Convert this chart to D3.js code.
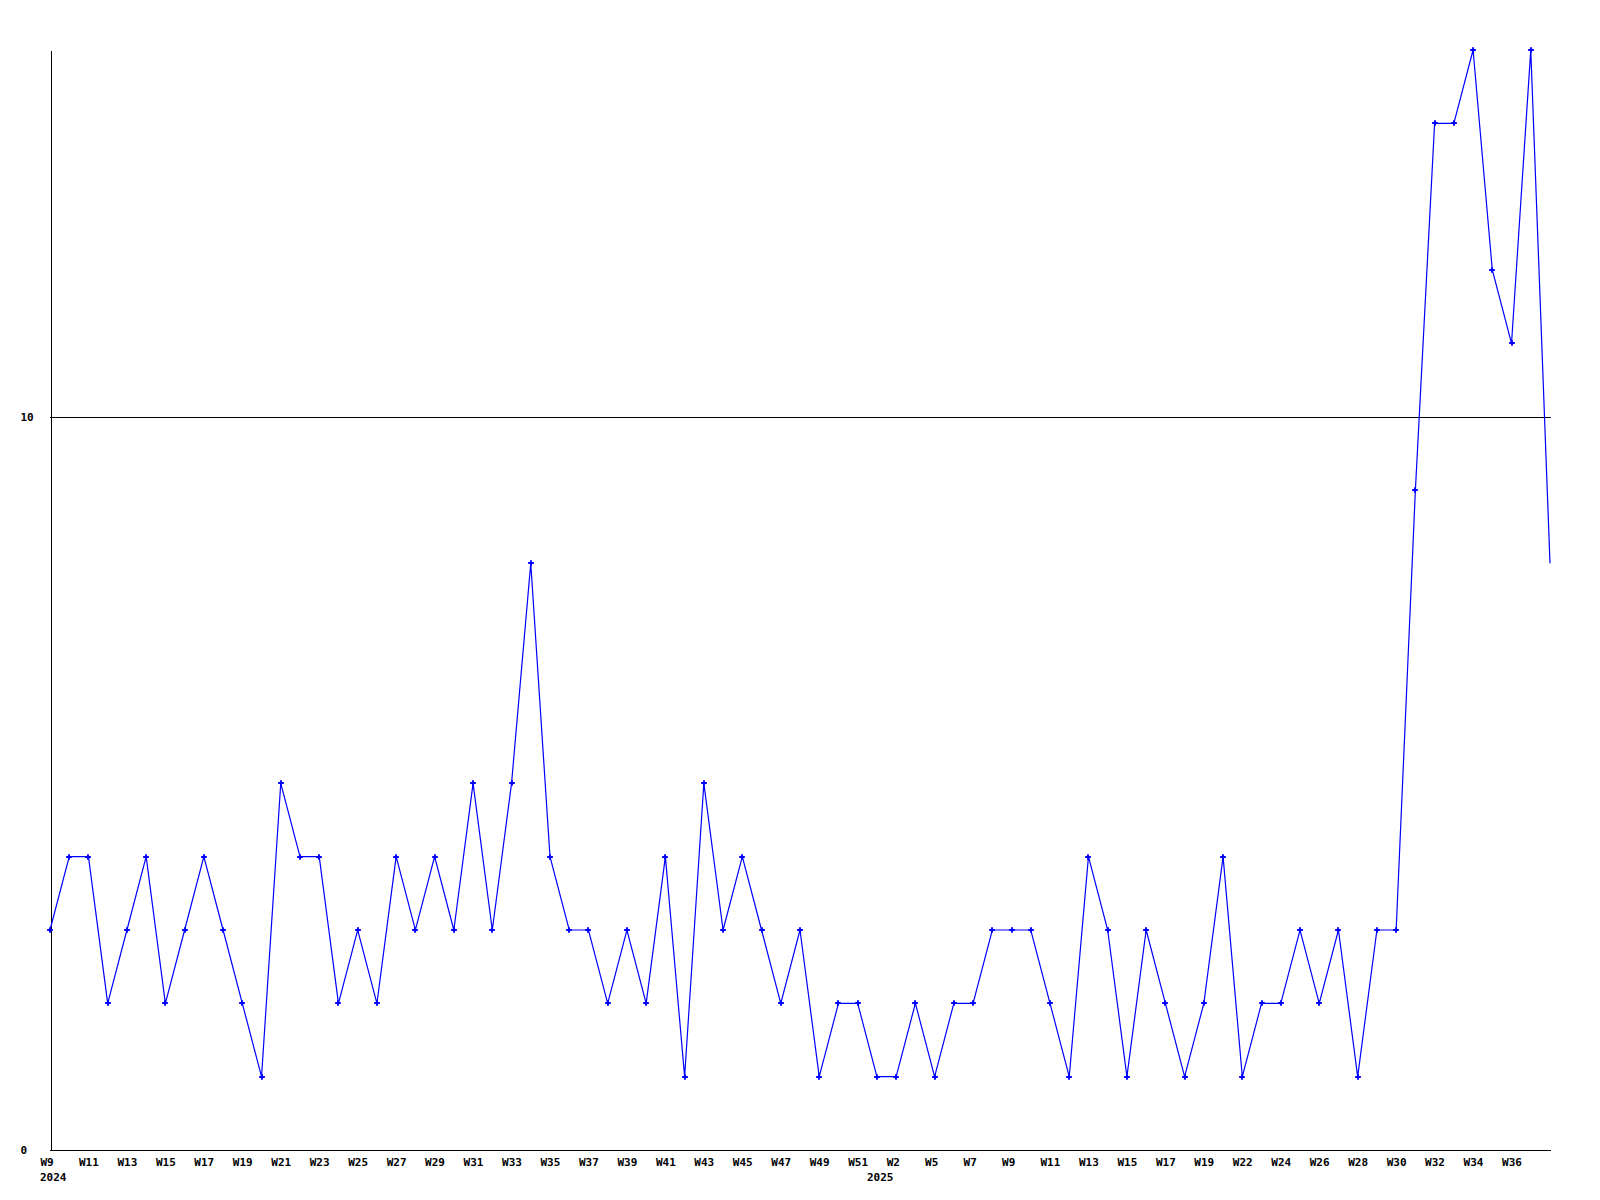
<!DOCTYPE html>
<html lang="en">
<head>
<meta charset="UTF-8">
<title>weekly chart</title>
<style type="text/css">
    body{margin:0;background:#fff;}
    svg{display:block;}
    text{font-family:"DejaVu Sans Mono",monospace;font-size:11px;font-weight:bold;fill:#000;}
</style>
<script src="https://cdn.jsdelivr.net/npm/d3@7/dist/d3.min.js"></script>
</head>
<body>
<div id="draw"></div>
<script>
// one value per week, W9 2024 .. W37 2025
var values = [3,4,4,2,3,4,2,3,4,3,2,1,5,4,4,2,3,2,4,3,4,3,5,3,5,8,4,3,3,2,
              3,2,4,1,5,3,4,3,2,3,1,2,2,1,1,2,1,2,2,3,3,3,2,1,4,3,1,3,2,1,
              2,4,1,2,2,3,2,3,1,3,3,9,14,14,15,12,11,15,8];
// week labels, placed on every second point
var weekTicks = [0,2,4,6,8,10,12,14,16,18,20,22,24,26,28,30,32,34,36,38,
                 40,42,44,46,48,50,52,54,56,58,60,62,64,66,68,70,72,74,76];
var weekLabels = ["W9","W11","W13","W15","W17","W19","W21","W23","W25","W27",
                  "W29","W31","W33","W35","W37","W39","W41","W43","W45","W47",
                  "W49","W51","W2","W5","W7","W9","W11","W13","W15","W17",
                  "W19","W22","W24","W26","W28","W30","W32","W34","W36"];
var yearTicks = [0,43];
var yearLabels = ["2024","2025"];
var yTicks = [0,10];

var w = 1600, h = 1200;
var mLeft = 50, mRight = 1550, mTop = 50, mBottom = 1150;

var x = d3.scaleLinear().domain([0, values.length-1]).range([mLeft, mRight]);
var y = d3.scaleLinear().domain([0, 15]).range([mBottom, mTop]);

var svg = d3.select("#draw").append("svg")
    .attr("width", w).attr("height", h);

// grid line at 10
svg.append("line")
    .attr("x1", mLeft).attr("x2", mRight+1)
    .attr("y1", Math.round(y(10))+0.5).attr("y2", Math.round(y(10))+0.5)
    .attr("stroke", "#000").attr("shape-rendering", "crispEdges");

// y axis: line + labels at left edge
var yAxis = svg.append("g")
    .attr("transform", "translate(" + (mLeft+0.5) + ",0)")
    .call(d3.axisLeft(y).tickValues(yTicks).tickSize(0).tickFormat(d3.format("d")));
yAxis.select(".domain").attr("stroke", "#000").attr("shape-rendering", "crispEdges");
yAxis.selectAll("text")
    .attr("text-anchor", "start")
    .attr("x", 20 - mLeft)
    .attr("dy", "0.35em")
    .style("font-family", '"DejaVu Sans Mono",monospace')
    .style("font-size", "11px").style("font-weight", "bold");

// x axis
var xAxis = svg.append("g")
    .attr("transform", "translate(0," + (mBottom+0.5) + ")")
    .call(d3.axisBottom(x).tickValues(weekTicks).tickSize(0)
        .tickFormat(function(d, i){ return weekLabels[i]; }));
xAxis.select(".domain").attr("stroke", "#000").attr("shape-rendering", "crispEdges")
    .attr("d", "M" + mLeft + ",0H" + (mRight+1));
xAxis.selectAll("text")
    .attr("text-anchor", "start")
    .attr("x", -10).attr("y", 15).attr("dy", 0)
    .style("font-family", '"DejaVu Sans Mono",monospace')
    .style("font-size", "11px").style("font-weight", "bold");

svg.append("g").selectAll("text")
    .data(yearTicks)
    .enter().append("text")
    .attr("x", function(d){ return x(d) - 10; })
    .attr("y", mBottom + 31)
    .text(function(d, i){ return yearLabels[i]; });

// the series
var line = d3.line()
    .x(function(d, i){ return x(i); })
    .y(function(d){ return y(d); });

svg.append("path")
    .datum(values)
    .attr("d", line)
    .attr("fill", "none")
    .attr("stroke", "#0000ff")
    .attr("stroke-width", 1.2);

// point markers, not on the last (current) week
svg.append("g").selectAll("path")
    .data(values.slice(0, values.length-1))
    .enter().append("path")
    .attr("transform", function(d, i){
        return "translate(" + Math.round(x(i)) + "," + Math.round(y(d)) + ")";
    })
    .attr("d", d3.symbol().type(d3.symbolCross).size(18))
    .attr("fill", "#0000ff");
</script>
</body>
</html>
